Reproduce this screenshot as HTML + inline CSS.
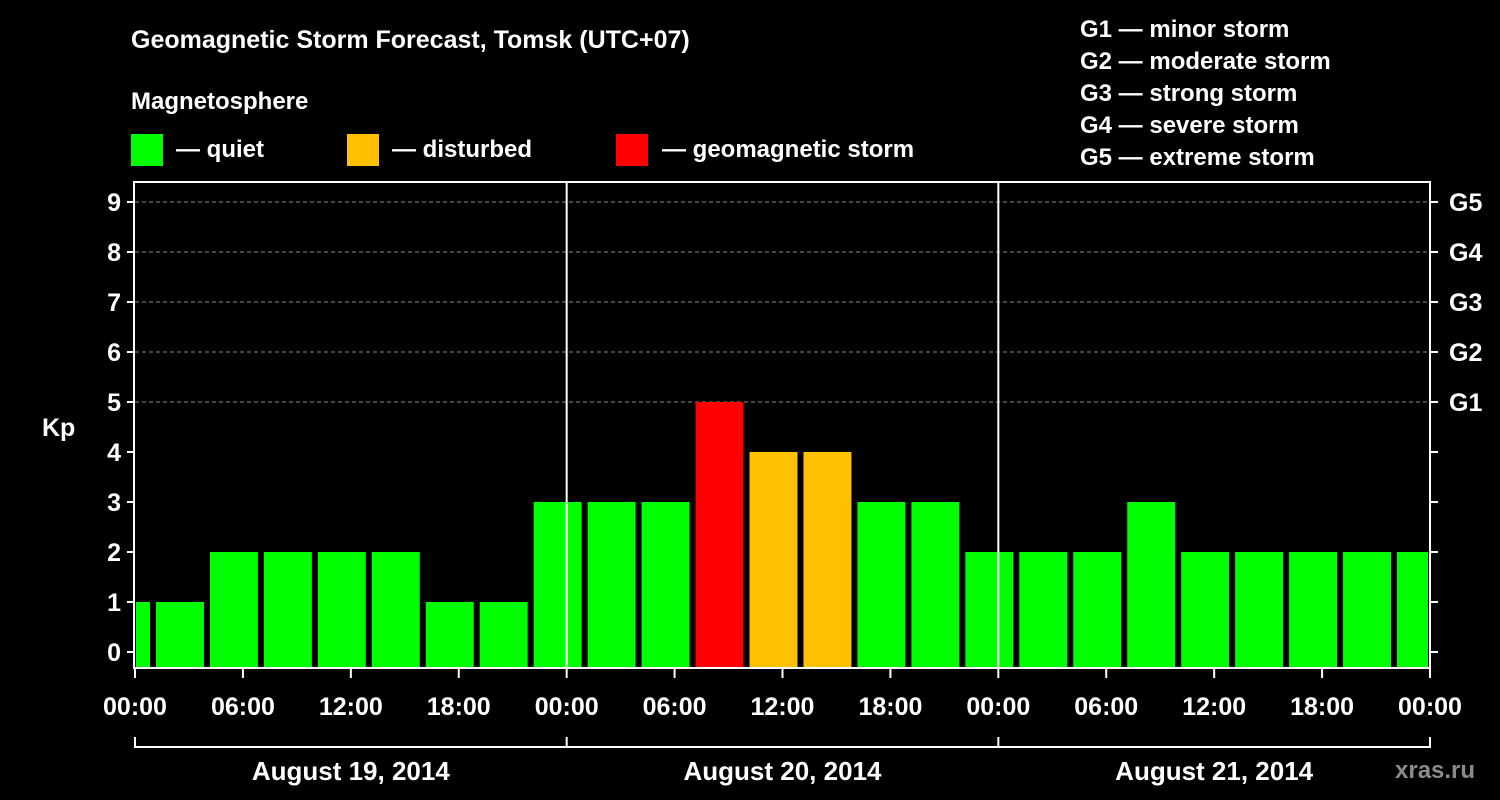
<!DOCTYPE html>
<html><head><meta charset="utf-8"><style>
body{margin:0;background:#000;width:1500px;height:800px;overflow:hidden}
svg{display:block}
text{font-family:"Liberation Sans",sans-serif;font-weight:bold;fill:#fff}
</style></head><body>
<svg id="c" width="1500" height="800">
<text x="131" y="48" font-size="25">Geomagnetic Storm Forecast, Tomsk (UTC+07)</text>
<text x="131" y="109" font-size="24">Magnetosphere</text>
<rect x="131" y="134" width="32" height="32" fill="#00ff00"/>
<text x="176" y="157" font-size="24">— quiet</text>
<rect x="347" y="134" width="32" height="32" fill="#ffc000"/>
<text x="392" y="157" font-size="24">— disturbed</text>
<rect x="616" y="134" width="32" height="32" fill="#ff0000"/>
<text x="662" y="157" font-size="24">— geomagnetic storm</text>
<g font-size="24">
<text x="1080" y="37">G1 — minor storm</text>
<text x="1080" y="69">G2 — moderate storm</text>
<text x="1080" y="101">G3 — strong storm</text>
<text x="1080" y="133">G4 — severe storm</text>
<text x="1080" y="165">G5 — extreme storm</text>
</g>
<text x="42" y="436" font-size="25">Kp</text>
<text x="1395" y="778" font-size="24" fill="#888" style="fill:#8a8a8a">xras.ru</text>
</svg>
<script>
const barStartHours=[-2,1,4,7,10,13,16,19,22,25,28,31,34,37,40,43,46,49,52,55,58,61,64,67,70];
const kpValues=[1,1,2,2,2,2,1,1,3,3,3,5,4,4,3,3,2,2,2,3,2,2,2,2,2];
const yTicks=[0,1,2,3,4,5,6,7,8,9];
const gLabels=["G1","G2","G3","G4","G5"];
const gLevels=[5,6,7,8,9];
const xTickLabels=["00:00","06:00","12:00","18:00","00:00","06:00","12:00","18:00","00:00","06:00","12:00","18:00","00:00"];
const dayLabels=["August 19, 2014","August 20, 2014","August 21, 2014"];
const NS="http://www.w3.org/2000/svg";
const svg=document.getElementById('c');
const X0=135,X1=1430,T=72,PT=182,PB=668;
const x=h=>X0+(X1-X0)*h/T;
const y=v=>652-50*v;
function mk(t,a,p){const e=document.createElementNS(NS,t);for(const k in a)e.setAttribute(k,a[k]);(p||svg).appendChild(e);return e;}
// grid
gLevels.forEach((v,i)=>{
 const g=mk('line',{x1:X0,x2:X1,y1:y(v),y2:y(v),stroke:'#888','stroke-dasharray':'4,3','stroke-width':1});
 
 
 const t=mk('text',{x:1449,y:y(v)+9,'font-size':25});t.textContent=gLabels[i];
 
 
});
// bars
barStartHours.forEach((h,i)=>{
 const v=kpValues[i];
 let a=Math.max(x(h)+3,X0+1),b=Math.min(x(h+3)-3,X1-2);
 const col=v>=5?'#ff0000':(v>=4?'#ffc000':'#00ff00');
 const r=mk('rect',{x:a,y:y(v),width:b-a,height:PB-y(v),fill:col});
 
 
});
// frame
const f=mk('rect',{x:X0-1,y:PT,width:X1-X0+1,height:PB-PT,fill:'none',stroke:'#fff','stroke-width':2});


[24,48].forEach(h=>{const l=mk('line',{x1:x(h),x2:x(h),y1:PT,y2:PB,stroke:'#fff','stroke-width':2});
 
 });
yTicks.forEach(v=>{
 mk('line',{x1:X0-8,x2:X0,y1:y(v),y2:y(v),stroke:'#fff','stroke-width':2});
 mk('line',{x1:X1,x2:X1+8,y1:y(v),y2:y(v),stroke:'#fff','stroke-width':2});
 const t=mk('text',{x:X0-14,y:y(v)+9,'font-size':25,'text-anchor':'end'});t.textContent=v;
 
 
});
xTickLabels.forEach((s,i)=>{
 const h=i*6;
 mk('line',{x1:x(h),x2:x(h),y1:PB,y2:PB+10,stroke:'#fff','stroke-width':2});
 const t=mk('text',{x:x(h),y:715,'font-size':25,'text-anchor':'middle'});t.textContent=s;
 
 
});
mk('line',{x1:X0,x2:X1,y1:747,y2:747,stroke:'#fff','stroke-width':2});
[0,24,48,72].forEach(h=>mk('line',{x1:x(h),x2:x(h),y1:737,y2:748,stroke:'#fff','stroke-width':2}));
dayLabels.forEach((s,i)=>{
 const t=mk('text',{x:x(i*24+12),y:780,'font-size':26,'text-anchor':'middle'});t.textContent=s;
 
 
});
</script>
</body></html>
